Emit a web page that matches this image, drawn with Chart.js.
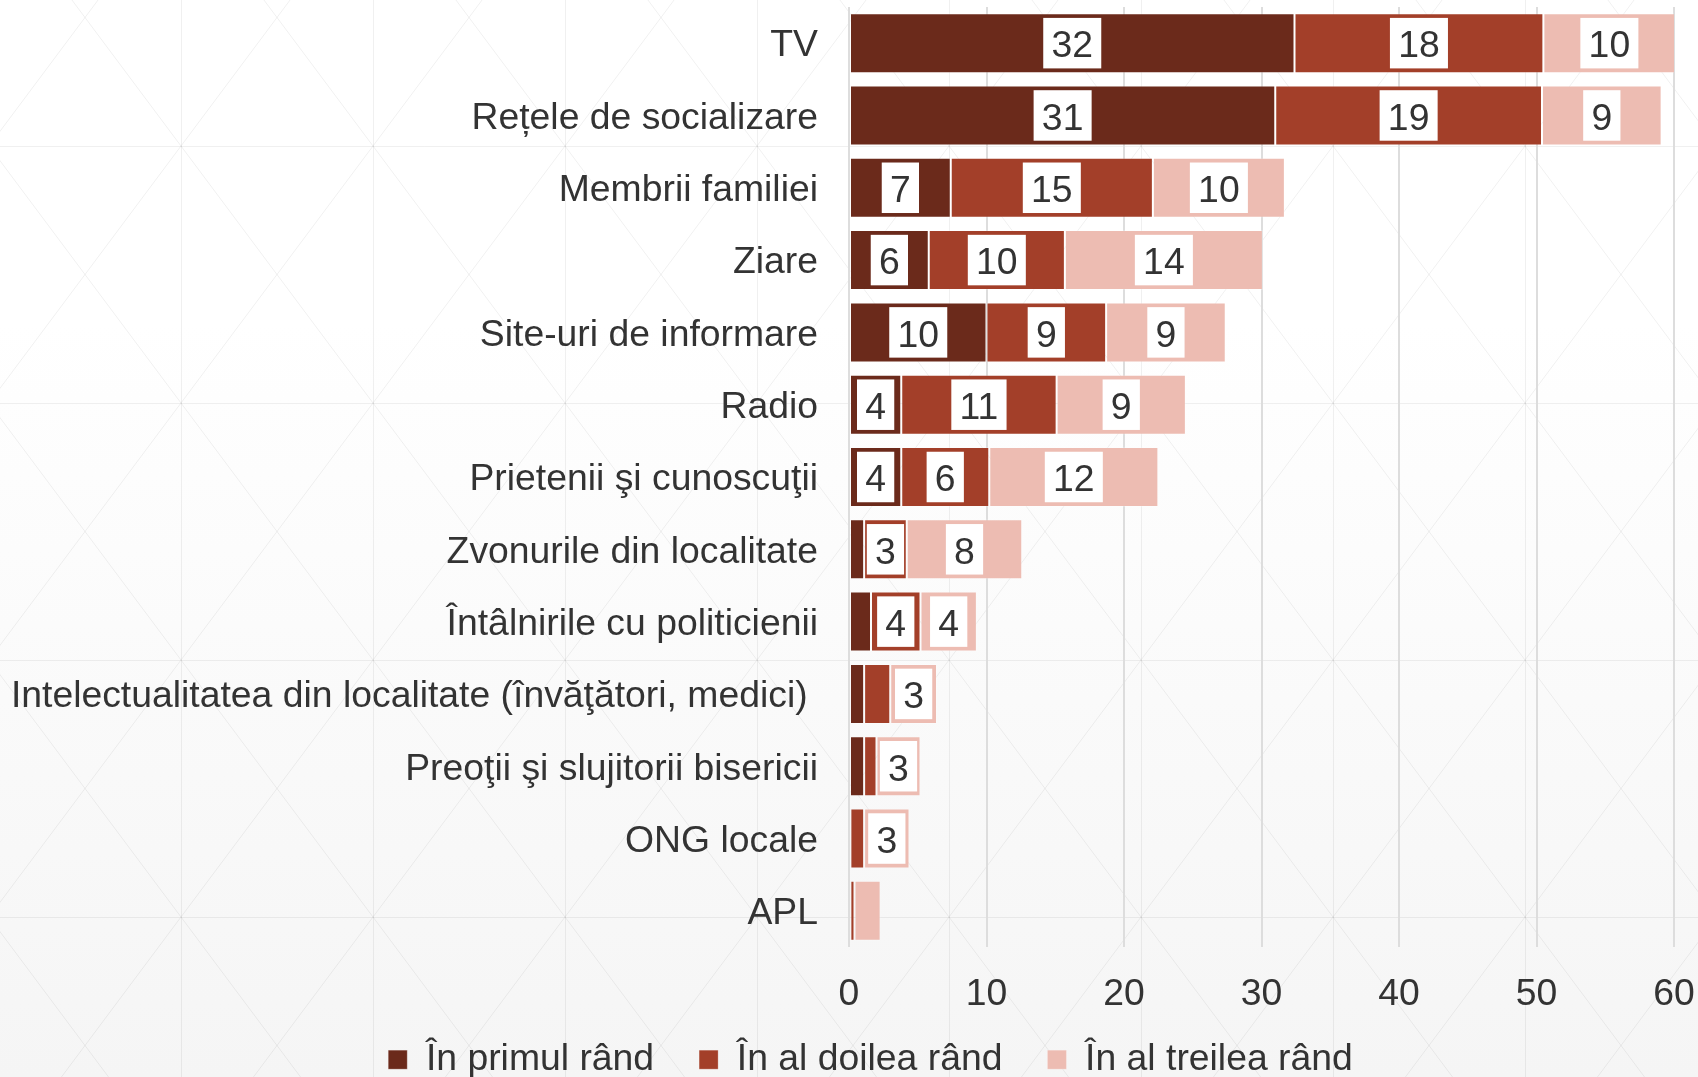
<!DOCTYPE html>
<html>
<head>
<meta charset="utf-8">
<title>Surse de informare</title>
<script src="https://cdn.jsdelivr.net/npm/chart.js@4.4.0/dist/chart.umd.min.js"></script>
<style>
    html, body { margin: 0; padding: 0; background: #fff; }
    canvas { display: block; }
</style>
</head>
<body>
<canvas id="myChart" width="1698" height="1077"></canvas>
<script>
'use strict';

// categories, top to bottom
var categories = [
    'TV',
    'Rețele de socializare',
    'Membrii familiei',
    'Ziare',
    'Site-uri de informare',
    'Radio',
    'Prietenii şi cunoscuţii',
    'Zvonurile din localitate',
    'Întâlnirile cu politicienii',
    'Intelectualitatea din localitate (învăţători, medici) ',
    'Preoţii şi slujitorii bisericii',
    'ONG locale',
    'APL'
];

// values (%)
var primulRand  = [32.4, 31.0, 7.4, 5.8, 10.0, 3.8, 3.8, 1.1, 1.6, 1.1, 1.1, 0.1, 0.1];
var doileaRand  = [18.1, 19.4, 14.7, 9.9, 8.7, 11.3, 6.4, 3.1, 3.6, 1.9, 0.9, 1.0, 0.3];
var treileaRand = [9.6, 8.7, 9.6, 14.4, 8.7, 9.4, 12.3, 8.4, 4.1, 3.4, 3.2, 3.3, 1.9];

var seriesNames  = ['În primul rând', 'În al doilea rând', 'În al treilea rând'];
var seriesColors = ['#6b2a1b', '#a33f29', '#edbcb2'];

var xMin = 0;
var xMax = 60;
var xStep = 10;

var FONT = '"Liberation Sans", Arial, sans-serif';
var FONT_SIZE = 37.33;
var TEXT = '#333333';

// light gradient with the faint triangle lattice behind everything
var backgroundPattern = {
    id: 'backgroundPattern',
    beforeDraw: function(chart) {
        var ctx = chart.ctx;
        var w = chart.width, h = chart.height;
        ctx.save();
        var grad = ctx.createLinearGradient(0, 0, 0, h);
        grad.addColorStop(0, '#ffffff');
        grad.addColorStop(0.3, '#ffffff');
        grad.addColorStop(1, '#f5f5f5');
        ctx.fillStyle = grad;
        ctx.fillRect(0, 0, w, h);

        var cw = 192, chh = 257, x0 = 181, y0 = 146;
        var k = cw / chh;
        ctx.strokeStyle = 'rgba(0,0,0,0.06)';
        ctx.lineWidth = 1;
        ctx.beginPath();
        var x, y;
        for (x = x0 - cw; x < w + cw; x += cw) {
            ctx.moveTo(x + 0.5, 0);
            ctx.lineTo(x + 0.5, h);
        }
        for (y = y0 - chh; y < h + chh; y += chh) {
            ctx.moveTo(0, y + 0.5);
            ctx.lineTo(w, y + 0.5);
        }
        for (x = x0 - cw * 10; x < w + cw * 10; x += cw) {
            ctx.moveTo(x - k * y0, 0);
            ctx.lineTo(x + k * (h - y0), h);
            ctx.moveTo(x + k * y0, 0);
            ctx.lineTo(x - k * (h - y0), h);
        }
        ctx.stroke();
        ctx.restore();
    }
};

// white boxes with the rounded value in the middle of each segment
var valueBoxes = {
    id: 'valueBoxes',
    afterDatasetsDraw: function(chart) {
        var ctx = chart.ctx;
        ctx.save();
        ctx.font = FONT_SIZE + 'px ' + FONT;
        ctx.textAlign = 'center';
        ctx.textBaseline = 'middle';
        chart.data.datasets.forEach(function(ds, i) {
            var meta = chart.getDatasetMeta(i);
            meta.data.forEach(function(bar, j) {
                var v = Math.round(ds.data[j]);
                if (v < 3) return;
                var text = String(v);
                var cx = (bar.x + bar.base) / 2;
                var bw = ctx.measureText(text).width + 16.5;
                var bh = 50.5;
                ctx.fillStyle = '#ffffff';
                ctx.fillRect(cx - bw / 2, bar.y - bh / 2, bw, bh);
                ctx.fillStyle = TEXT;
                ctx.fillText(text, cx, bar.y + 4);
            });
        });
        ctx.restore();
    }
};

// legend sits a bit closer to the tick labels than the layout gives it
var legendNudge = {
    id: 'legendNudge',
    afterLayout: function(chart) {
        chart.legend.top -= 13;
        chart.legend.height += 13;
    }
};

function initChart() {
    var ctx = document.getElementById('myChart').getContext('2d');
    var series = [primulRand, doileaRand, treileaRand];

    var data = {
        labels: categories,
        datasets: series.map(function(values, i) {
            return {
                label: seriesNames[i],
                data: values,
                backgroundColor: seriesColors[i],
                borderColor: 'rgba(255,255,255,0.25)',
                borderWidth: 1,
                borderSkipped: false,
                categoryPercentage: 1,
                barPercentage: 0.83
            };
        })
    };

    var options = {
        indexAxis: 'y',
        responsive: false,
        animation: false,
        devicePixelRatio: 1,
        layout: {
            padding: { left: 0, right: -43, top: 7, bottom: 0 }
        },
        scales: {
            x: {
                stacked: true,
                min: xMin,
                max: xMax,
                ticks: {
                    stepSize: xStep,
                    padding: 25.5,
                    color: TEXT,
                    font: { family: FONT, size: FONT_SIZE }
                },
                grid: {
                    color: '#dddddd',
                    lineWidth: 2,
                    drawTicks: false
                },
                border: { display: false },
                afterFit: function(scale) {
                    scale.height = 62;
                    scale.paddingRight = 24;
                }
            },
            y: {
                stacked: true,
                ticks: {
                    padding: 31,
                    labelOffset: 3,
                    color: TEXT,
                    autoSkip: false,
                    font: { family: FONT, size: FONT_SIZE }
                },
                grid: { display: false, drawTicks: false },
                border: { display: false },
                afterFit: function(scale) {
                    scale.width = 849;
                    scale.paddingTop = 0;
                    scale.paddingBottom = 0;
                }
            }
        },
        plugins: {
            legend: {
                position: 'bottom',
                maxHeight: 68,
                labels: {
                    boxWidth: 19,
                    boxHeight: 19,
                    padding: 45,
                    color: TEXT,
                    font: { family: FONT, size: FONT_SIZE }
                }
            },
            tooltip: { enabled: false }
        }
    };

    new Chart(ctx, {
        type: 'bar',
        data: data,
        options: options,
        plugins: [backgroundPattern, valueBoxes, legendNudge]
    });
}

initChart();
</script>
</body>
</html>
